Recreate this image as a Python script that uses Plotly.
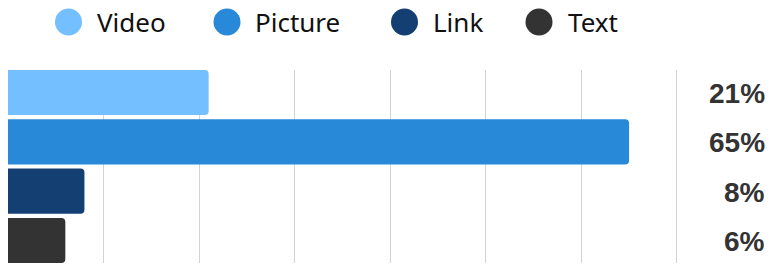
import plotly.graph_objects as go

categories = ["Video", "Picture", "Link", "Text"]
values = [21, 65, 8, 6]
colors = ["#73BFFF", "#2889D8", "#143F73", "#333333"]
tick_vals = [0, 10, 20, 30, 40, 50, 60, 70]

W, H = 770, 264
ML, MR, MT, MB = 8, 92, 70, 1
PW, PH = W - ML - MR, H - MT - MB

def px_x(px):
    return (px - ML) / PW

def px_y(py):
    return (H - MB - py) / PH

bar_w = 0.915
fig = go.Figure()
fig.add_trace(go.Bar(
    y=categories, x=values, orientation="h",
    marker=dict(color=colors, line=dict(width=0)),
    showlegend=False, hoverinfo="skip",
))

# value labels on the right
for cat, v in zip(categories, values):
    fig.add_annotation(
        x=1, xref="paper", y=cat, yref="y", xanchor="right", yanchor="middle",
        xshift=89, yshift=-1, text=f"<b>{v}%</b>", showarrow=False,
        font=dict(family="Liberation Sans, Arial, sans-serif", size=28, color="#333333"),
    )

# custom legend
legend_circle_x = [68.5, 227, 404.5, 539]
legend_text_x = [95, 253, 431, 566]
legend_y = 22
r = 13.5
for cat, col, cx, tx in zip(categories, colors, legend_circle_x, legend_text_x):
    fig.add_shape(
        type="circle", xref="paper", yref="paper",
        x0=px_x(cx - r), x1=px_x(cx + r), y0=px_y(legend_y + r), y1=px_y(legend_y - r),
        fillcolor=col, line=dict(width=0),
    )
    fig.add_annotation(
        x=px_x(tx), xref="paper", y=px_y(legend_y), yref="paper",
        xanchor="left", yanchor="middle", text=cat, showarrow=False,
        font=dict(family="Noto Sans, Liberation Sans, sans-serif", size=26, color="#111111"),
    )

fig.update_layout(
    width=W, height=H,
    margin=dict(l=ML, r=MR, t=MT, b=MB, pad=0),
    paper_bgcolor="white", plot_bgcolor="white",
    bargap=1 - bar_w,
    barcornerradius=4,
    xaxis=dict(range=[0, 70.12], tickvals=tick_vals, showticklabels=False,
               showgrid=True, gridcolor="#d3d3d3", gridwidth=1,
               zeroline=False, showline=False, ticks=""),
    yaxis=dict(range=[3 + bar_w / 2, -bar_w / 2], showticklabels=False,
               showgrid=False, zeroline=False, showline=False, ticks=""),
    showlegend=False,
)

fig.write_html("out.html", config={"displayModeBar": False},
               post_script="document.body.style.margin='0';")
